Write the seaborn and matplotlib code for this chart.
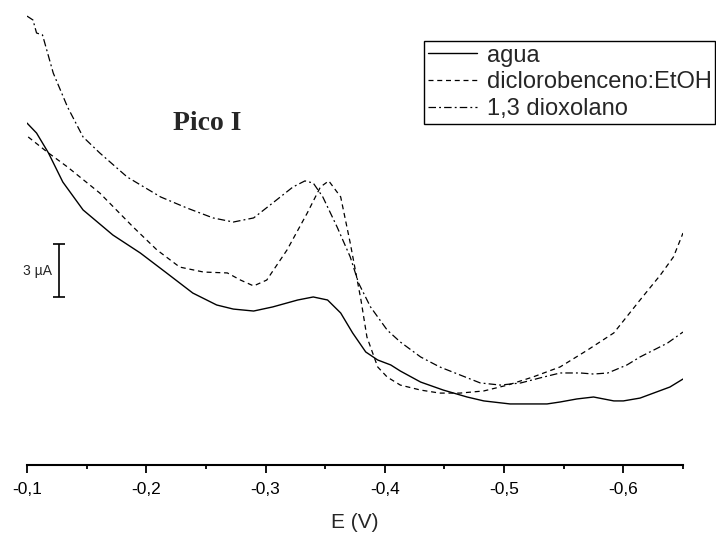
import numpy as np
import pandas as pd
import seaborn as sns
import matplotlib.pyplot as plt
from matplotlib.ticker import MultipleLocator, FuncFormatter

# Potential (V) and current (uA, arbitrary offset)
e_agua = [-0.100, -0.108, -0.118, -0.130, -0.147, -0.172, -0.195, -0.217, -0.239, -0.259,
          -0.273, -0.290, -0.306, -0.327, -0.340, -0.352, -0.363, -0.373, -0.384, -0.394,
          -0.405, -0.413, -0.430, -0.449, -0.469, -0.483, -0.505, -0.536, -0.547, -0.561,
          -0.575, -0.592, -0.600, -0.614, -0.639, -0.650]
i_agua = [19.21, 18.65, 17.53, 15.90, 14.33, 12.92, 11.91, 10.79, 9.66, 8.99,
          8.76, 8.65, 8.88, 9.27, 9.44, 9.27, 8.54, 7.42, 6.35, 5.90,
          5.62, 5.28, 4.66, 4.21, 3.82, 3.60, 3.43, 3.43, 3.54, 3.71,
          3.82, 3.60, 3.60, 3.76, 4.38, 4.83]

e_dcb = [-0.101, -0.117, -0.134, -0.161, -0.189, -0.209, -0.228, -0.248, -0.268, -0.279,
         -0.290, -0.301, -0.318, -0.335, -0.346, -0.353, -0.363, -0.371, -0.380, -0.385,
         -0.394, -0.402, -0.413, -0.430, -0.446, -0.463, -0.483, -0.503, -0.524, -0.547,
         -0.570, -0.592, -0.614, -0.631, -0.642, -0.650]
i_dcb = [18.43, 17.58, 16.74, 15.28, 13.37, 12.08, 11.12, 10.84, 10.79, 10.39,
         10.06, 10.39, 12.08, 14.16, 15.62, 15.96, 15.06, 12.47, 9.27, 7.19,
         5.51, 4.94, 4.49, 4.21, 4.04, 4.04, 4.16, 4.49, 4.94, 5.51,
         6.46, 7.42, 9.27, 10.67, 11.69, 13.03]

e_diox = [-0.100, -0.105, -0.108, -0.113, -0.122, -0.134, -0.147, -0.161, -0.184, -0.212,
          -0.234, -0.256, -0.273, -0.290, -0.306, -0.323, -0.333, -0.340, -0.348, -0.360,
          -0.371, -0.378, -0.388, -0.402, -0.413, -0.430, -0.446, -0.463, -0.480, -0.497,
          -0.514, -0.530, -0.547, -0.564, -0.575, -0.587, -0.603, -0.614, -0.637, -0.650]
i_diox = [25.22, 25.00, 24.27, 24.16, 22.02, 20.11, 18.43, 17.53, 16.18, 15.06,
          14.44, 13.88, 13.65, 13.88, 14.72, 15.62, 15.96, 15.84, 15.06, 13.37,
          11.69, 10.22, 8.88, 7.58, 6.91, 6.07, 5.51, 5.06, 4.61, 4.49,
          4.61, 4.89, 5.17, 5.17, 5.11, 5.17, 5.62, 6.07, 6.85, 7.47]

labels = ['agua', 'diclorobenceno:EtOH', '1,3 dioxolano']
xticks = [-0.1, -0.2, -0.3, -0.4, -0.5, -0.6]

sns.set_style('white')
plt.rcParams['font.family'] = ['Liberation Sans', 'DejaVu Sans']

fig = plt.figure(figsize=(7.16, 5.4), dpi=100)
ax = fig.add_axes([27 / 716, 75 / 540, 656 / 716, 465 / 540])

sns.lineplot(x=e_agua, y=i_agua, ax=ax, color='black', lw=1.0, sort=False,
             linestyle='-', label=labels[0])
sns.lineplot(x=e_dcb, y=i_dcb, ax=ax, color='black', lw=0.9, sort=False,
             linestyle=(0, (4, 3)), label=labels[1])
sns.lineplot(x=e_diox, y=i_diox, ax=ax, color='black', lw=0.9, sort=False,
             linestyle=(0, (6, 2.5, 1.5, 2.5)), label=labels[2])

ax.set_xlim(-0.1, -0.65)
ax.set_ylim(0, 465 / 17.8)

for s in ['left', 'top', 'right']:
    ax.spines[s].set_visible(False)
ax.spines['bottom'].set_linewidth(1.5)
ax.spines['bottom'].set_color('black')
ax.set_yticks([])
ax.set_xticks(xticks)
ax.xaxis.set_minor_locator(MultipleLocator(0.05))
ax.xaxis.set_major_formatter(FuncFormatter(lambda v, p: f'{v:.1f}'.replace('.', ',')))
ax.tick_params(axis='x', which='major', direction='out', length=6, width=1.3,
               bottom=True, labelsize=12.5, pad=6, colors='black')
ax.tick_params(axis='x', which='minor', direction='out', length=3, width=1.3,
               bottom=True, colors='black')
ax.set_xlabel('E (V)', fontsize=15, labelpad=12)
ax.set_ylabel('')

# 3 uA scale bar (x axis is inverted, so "+" moves left)
ax.errorbar([-0.1268], [10.92], yerr=[1.5], color='black', lw=1.2, capsize=4, capthick=1.2)
ax.text(-0.1268 + 0.006, 10.92, '3 µA', fontsize=10, ha='right', va='center')

fig.text(207 / 716, 1 - 123 / 540, 'Pico I', fontsize=20, fontweight='bold',
         family=['Liberation Serif', 'DejaVu Serif'], ha='center', va='center')

ax.get_legend().remove()
handles, _ = ax.get_legend_handles_labels()
leg = fig.legend(handles[:3], labels, loc='upper right', bbox_to_anchor=(715 / 716, 1 - 41 / 540),
                 fontsize=17, frameon=True, fancybox=False, framealpha=1, edgecolor='black',
                 borderpad=0.15, labelspacing=0.2, handlelength=2.1, handletextpad=0.4,
                 borderaxespad=0)
leg.get_frame().set_linewidth(1.0)

fig.savefig('out.png', dpi=100)
